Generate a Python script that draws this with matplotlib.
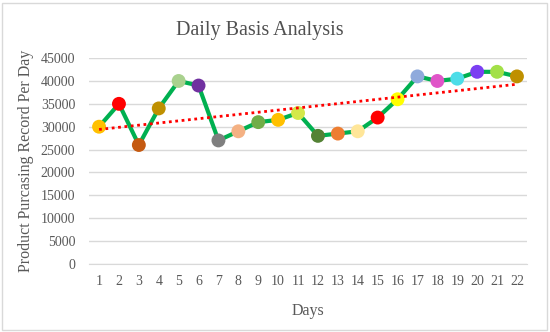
import matplotlib.pyplot as plt
import numpy as np
from matplotlib.patches import Rectangle

plt.rcParams['font.family'] = ['Liberation Serif', 'DejaVu Serif']

days = list(range(1, 23))
records = [30000, 35000, 26000, 34000, 40000, 39000, 27000, 29000, 31000, 31500, 33000,
           28000, 28500, 29000, 32000, 36000, 41000, 40000, 40500, 42000, 42000, 41000]
marker_colors = ['#FFC000', '#FF0000', '#C55A11', '#BF9000', '#A9D18E', '#7030A0',
                 '#7F7F7F', '#F4B183', '#70AD47', '#FFC000', '#D4E84A', '#548235',
                 '#ED7D31', '#FFE699', '#FF0000', '#FFFF00', '#8FAADC', '#E055C8',
                 '#4DDDE8', '#7B3FF2', '#A3E048', '#BF9000']

fig = plt.figure(figsize=(5.5, 3.32), dpi=100)
ax = fig.add_axes([0.162, 0.205, 0.796, 0.62])

# light frame around the whole chart
fig.patches.append(Rectangle((0.004, 0.006), 0.99, 0.986, transform=fig.transFigure,
                             fill=False, edgecolor='#D9D9D9', linewidth=1))

ax.plot(days, records, color='#00B050', linewidth=3, zorder=2)
ax.scatter(days, records, s=100, c=marker_colors, zorder=3, linewidths=0)

# linear trendline
k, b = np.polyfit(days, records, 1)
x_tr = np.array([days[0], days[-1]])
ax.plot(x_tr, k * x_tr + b, color='#FF0000', linestyle=(0, (1, 1.3)), linewidth=2, zorder=4)

ax.set_xlim(0.5, 22.5)
ax.set_ylim(0, 45000)
ax.set_yticks(range(0, 45001, 5000))
ax.set_xticks(days)
ax.grid(axis='y', color='#D9D9D9', linewidth=1)
ax.set_axisbelow(True)
for s in ['top', 'right', 'left']:
    ax.spines[s].set_visible(False)
ax.spines['bottom'].set_color('#D9D9D9')
ax.tick_params(length=0, labelsize=10, labelcolor='#595959', pad=8)
ax.tick_params(axis='y', pad=10)

fig.text(260 / 550, 1 - 30 / 332, 'Daily Basis Analysis', fontsize=14.5, color='#505050',
         ha='center', va='center')
ax.set_xlabel('Days', fontsize=11.5, color='#595959', labelpad=11)
ax.set_ylabel('Product Purcasing Record Per Day', fontsize=11.5, color='#595959', labelpad=5)

plt.savefig('out.png', dpi=100)
